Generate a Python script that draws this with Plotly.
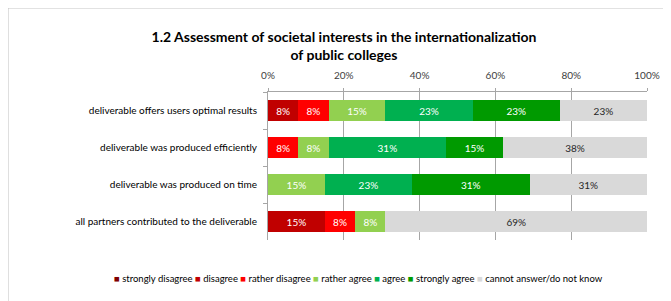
import plotly.graph_objects as go

categories = [
    "deliverable offers users optimal results",
    "deliverable was produced efficiently",
    "deliverable was produced on time",
    "all partners contributed to the deliverable",
]
series_names = ["strongly disagree", "disagree", "rather disagree", "rather agree",
                "agree", "strongly agree", "cannot answer/do not know"]
strongly_disagree = [0, 0, 0, 0]
disagree = [8, 0, 0, 15]
rather_disagree = [8, 8, 0, 8]
rather_agree = [15, 8, 15, 8]
agree = [23, 31, 23, 0]
strongly_agree = [23, 15, 31, 0]
cannot_answer = [23, 38, 31, 69]
x_ticks = [0, 20, 40, 60, 80, 100]
x_tick_labels = ["0%", "20%", "40%", "60%", "80%", "100%"]

series_values = [strongly_disagree, disagree, rather_disagree, rather_agree,
                 agree, strongly_agree, cannot_answer]
colors = ["#7F0000", "#C00000", "#FF0000", "#92D050", "#00B050", "#009A00", "#D9D9D9"]
text_colors = ["white"] * 6 + ["#262626"]

FONT = "Lato"
OFF = 8  # page body margin offset
W, H = 671 - OFF, 301 - OFF
L, R, T, B = 268 - OFF, 24, 92 - OFF, 61
PW, PH = W - L - R, H - T - B


def px_x(px):
    return (px - OFF - L) / PW


def px_y(py):
    return (H - B - (py - OFF)) / PH


fig = go.Figure()
for name, vals, col, tcol in zip(series_names, series_values, colors, text_colors):
    fig.add_trace(go.Bar(
        y=categories, x=vals, name=name, orientation="h",
        marker=dict(color=col, line=dict(width=0)),
        text=[f"{v}%" if v > 0 else "" for v in vals],
        textposition="inside", insidetextanchor="middle", textangle=0,
        textfont=dict(family=FONT, size=10, color=tcol),
        showlegend=False, hoverinfo="skip",
    ))

legend_text = " ".join(
    f"<span style='color:{c}'>■</span> {n}" for n, c in zip(series_names, colors)
)

fig.update_layout(
    barmode="stack",
    bargap=0.45,
    width=W, height=H,
    margin=dict(l=L, r=R, t=T, b=B, autoexpand=False),
    paper_bgcolor="white", plot_bgcolor="white",
    font=dict(family=FONT, color="#000000"),
    title=dict(
        text="<b>1.2 Assessment of societal interests in the internationalization<br>of public colleges</b>",
        font=dict(family=FONT, size=14, color="#000000"),
        x=(344 - OFF) / W, xanchor="center", xref="container",
        y=1 - (42 - OFF) / H, yanchor="top", yref="container",
    ),
    xaxis=dict(
        side="top", range=[0, 100], tickvals=x_ticks, ticktext=x_tick_labels,
        showgrid=True, gridcolor="#A6A6A6", gridwidth=1,
        showline=True, linecolor="#A6A6A6", linewidth=1,
        ticks="outside", ticklen=3, tickcolor="#A6A6A6",
        tickfont=dict(family=FONT, size=10, color="#404040"),
        ticklabelstandoff=5, zeroline=False, fixedrange=True,
    ),
    yaxis=dict(
        autorange="reversed", showline=True, linecolor="#A6A6A6", linewidth=1,
        ticks="outside", ticklen=4, tickcolor="#A6A6A6", tickson="boundaries",
        tickfont=dict(family=FONT, size=10, color="#000000"),
        ticklabelstandoff=8, showgrid=False, fixedrange=True,
    ),
    annotations=[dict(
        text=legend_text, x=px_x(358), y=px_y(278), xref="paper", yref="paper",
        xanchor="center", yanchor="middle", showarrow=False,
        font=dict(family=FONT, size=9.5, color="#000000"),
    )],
    shapes=[
        dict(type="line", xref="paper", yref="paper",
             x0=px_x(7.5), x1=px_x(671), y0=px_y(7.5), y1=px_y(7.5),
             line=dict(color="#8C8C8C", width=1.5)),
        dict(type="line", xref="paper", yref="paper",
             x0=px_x(7.5), x1=px_x(7.5), y0=px_y(7.5), y1=px_y(301),
             line=dict(color="#BFBFBF", width=2)),
    ],
)

fig.write_html("out.html")
